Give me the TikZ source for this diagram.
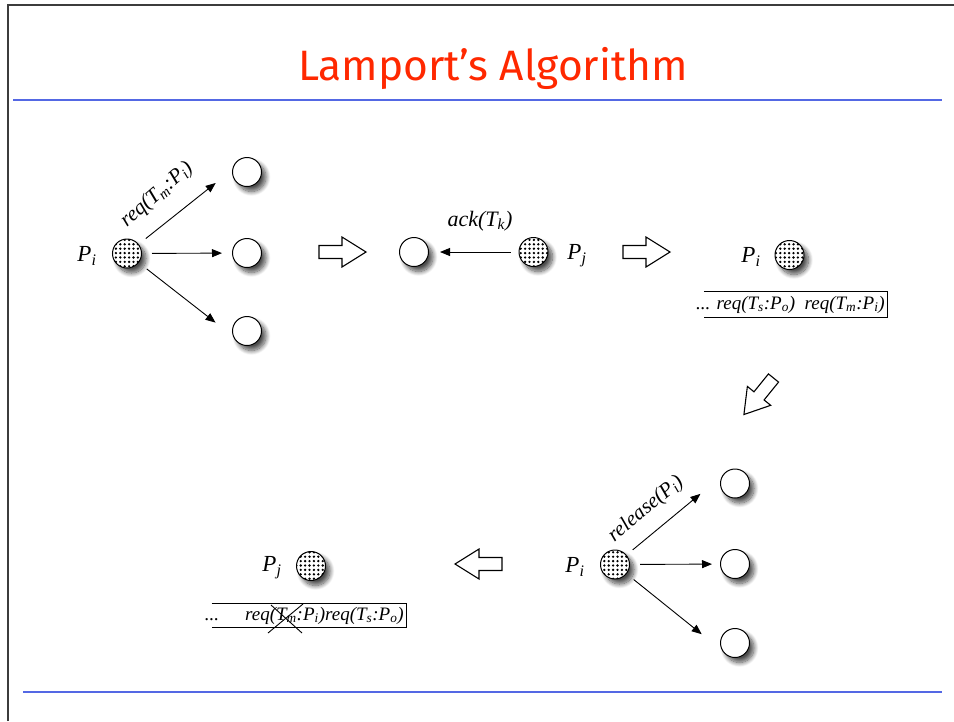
\documentclass[tikz,border=0pt]{standalone}
\usepackage{fontspec}
\setmainfont{Liberation Serif}
\newfontfamily\titlefont{Fira Sans}
\usetikzlibrary{arrows.meta,patterns,shadows.blur,calc}

% dense dot texture for a process that holds a request
\pgfdeclarepatternformonly{procdots}{\pgfqpoint{-1.5pt}{-1.5pt}}{\pgfqpoint{5pt}{5pt}}{\pgfqpoint{4.4pt}{4.4pt}}%
  {\pgfpathcircle{\pgfqpoint{1.5pt}{1.5pt}}{1.3pt}\pgfusepath{fill}}

\definecolor{titlered}{RGB}{255,40,0}
\definecolor{rulecol}{RGB}{84,104,228}
\definecolor{framecol}{RGB}{60,60,60}

\begin{document}
\begin{tikzpicture}[x=1pt,y=-1pt,
  proc/.style={circle, draw, line width=1pt, minimum size=29pt, inner sep=0pt, fill=white,
    blur shadow={shadow xshift=4.5pt, shadow yshift=-5pt, shadow blur radius=4.5pt,
                 shadow blur steps=12, shadow opacity=70}},
  busy/.style={proc, postaction={pattern=procdots}},
  msg/.style={line width=0.9pt, -{Triangle[length=10pt,width=8pt]}},
  lbl/.style={font=\itshape\fontsize{23}{25}\selectfont, inner sep=0pt},
  edgelbl/.style={font=\itshape\fontsize{21}{23}\selectfont, inner sep=0pt},
  queue/.style={font=\itshape\fontsize{19}{21}\selectfont, inner xsep=2pt, inner ysep=0pt, minimum height=25pt},
  queueline/.style={line width=0.9pt},
  fatarrow/.style={draw, line width=1.1pt, line join=miter, fill=white},
  rulestyle/.style={draw=rulecol, line width=2.6pt},
  pics/blockarrow/.style={code={
    \path[fatarrow] (0,-6.5) -- (23,-6.5) -- (23,-15) -- (47,0) -- (23,15) -- (23,6.5) -- (0,6.5) -- cycle;}}
]
\useasboundingbox (0,0) rectangle (954,721);

% slide frame, title and rules
\draw[framecol, line width=1.4pt] (8,721) -- (8,5) -- (954,5);
\node[font=\titlefont\fontsize{42.5}{50}\selectfont, text=titlered, anchor=base, inner sep=0pt] (title) at (493,80) {Lamport’s Algorithm};
\draw[rulestyle] (13,100) -- (942,100);
\draw[rulestyle] (23,692) -- (942,692);

% step 1: P_i multicasts its request
\node[busy] (A) at (127,253.5) {};
\node[proc] (B1) at (247,172) {};
\node[proc] (B2) at (247,253) {};
\node[proc] (B3) at (247,331) {};
\node[lbl] (PA) at (87,256) {P\textsubscript{i}};
\draw[msg, shorten <=9pt, shorten >=21pt] (A) -- (B1.172);
\draw[msg, shorten <=10pt, shorten >=10pt] (A) -- (B2);
\draw[msg, shorten <=10pt, shorten >=22pt] (A) -- (B3.200);
\node[edgelbl, rotate=41] (reqlbl) at (157,195) {req(T\textsubscript{m}:P\textsubscript{i})};

\pic at (319,252) {blockarrow};

% step 2: acknowledgement from P_j
\node[proc] (C) at (414,252) {};
\node[busy] (Pj) at (533.5,252) {};
\node[lbl] (PjL) at (577,256) {P\textsubscript{j}};
\draw[msg, shorten <=8pt, shorten >=11pt] (Pj) -- (C);
\node[lbl, font=\itshape\fontsize{22}{24}\selectfont] (acklbl) at (480,221) {ack(T\textsubscript{k})};

\pic at (623,252) {blockarrow};

% step 3: request queue of P_i
\node[busy] (G) at (789.5,255) {};
\node[lbl] (GL) at (751,257) {P\textsubscript{i}};
\node[queue, anchor=east] (q1) at (887,304.5) {... req(T\textsubscript{s}:P\textsubscript{o})\ \ req(T\textsubscript{m}:P\textsubscript{i})};
\draw[queueline] ([xshift=10pt]q1.north west) -- (q1.north east) -- (q1.south east) -- ([xshift=10pt]q1.south west);

\pic[rotate=231] at (773.5,378) {blockarrow};

% step 4: P_i multicasts its release
\node[busy] (H) at (615,564.5) {};
\node[proc] (I1) at (735,483.5) {};
\node[proc] (I2) at (735,564) {};
\node[proc] (I3) at (735,643) {};
\node[lbl] (HL) at (575,567) {P\textsubscript{i}};
\draw[msg, shorten <=8pt, shorten >=28pt] (H) -- (I1.150);
\draw[msg, shorten <=10pt, shorten >=8pt] (H) -- (I2);
\draw[msg, shorten <=9pt, shorten >=26pt] (H) -- (I3.210);
\node[edgelbl, rotate=40] (rellbl) at (646,509) {release(P\textsubscript{i})};

\pic[rotate=180] at (502,564) {blockarrow};

% step 5: P_j drops the released request
\node[busy] (K) at (311,566) {};
\node[lbl] (KL) at (272,568) {P\textsubscript{j}};
\node[queue, anchor=east, minimum height=23pt] (q2) at (406,615.5) {...\hspace{26pt}req(T\textsubscript{m}:P\textsubscript{i})req(T\textsubscript{s}:P\textsubscript{o})};
\draw[queueline] ([xshift=9pt]q2.north west) -- (q2.north east) -- (q2.south east) -- ([xshift=9pt]q2.south west);
\draw[line width=0.9pt] (271,605) -- (302,633);
\draw[line width=0.9pt] (303,604) -- (268,633);
\end{tikzpicture}
\end{document}
